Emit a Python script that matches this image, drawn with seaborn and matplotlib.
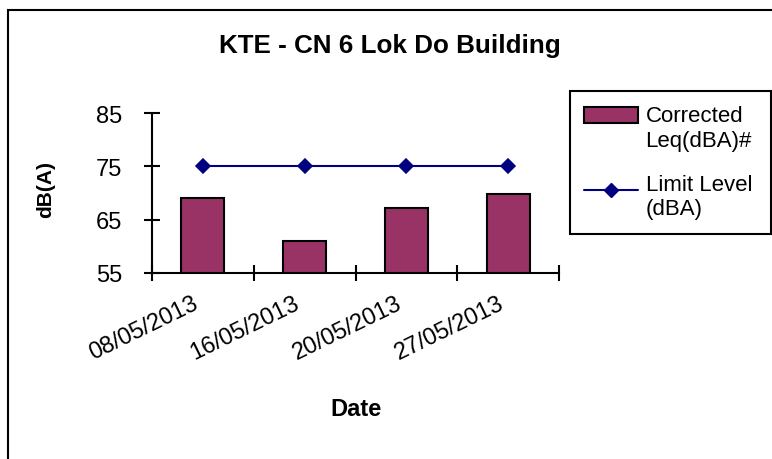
import pandas as pd
import matplotlib.pyplot as plt
from matplotlib.patches import Patch, Rectangle
from matplotlib.lines import Line2D
from matplotlib.legend_handler import HandlerPatch, HandlerLine2D
from matplotlib.transforms import ScaledTranslation
import seaborn as sns

dates = ["08/05/2013", "16/05/2013", "20/05/2013", "27/05/2013"]
leq_values = [69.1, 61.0, 67.2, 69.8]
limit_values = [75, 75, 75, 75]
y_ticks = [55, 65, 75, 85]

bar_color = "#993366"
line_color = "#000080"

df = pd.DataFrame({"Date": dates, "Leq": leq_values, "Limit": limit_values})

sns.set_style("white")
plt.rcParams["font.family"] = ["Liberation Sans", "DejaVu Sans"]
plt.rcParams["text.color"] = "black"
plt.rcParams["axes.labelcolor"] = "black"
plt.rcParams["xtick.color"] = "black"
plt.rcParams["ytick.color"] = "black"


# legend symbols sit next to the first line of each label (Excel style)
class UpPatch(HandlerPatch):
    def create_artists(self, legend, orig_handle, xdescent, ydescent,
                       width, height, fontsize, trans):
        return super().create_artists(legend, orig_handle, xdescent,
                                      ydescent - 0.6 * fontsize, width,
                                      height, fontsize, trans)


class UpLine(HandlerLine2D):
    def create_artists(self, legend, orig_handle, xdescent, ydescent,
                       width, height, fontsize, trans):
        return super().create_artists(legend, orig_handle, xdescent,
                                      ydescent - 0.6 * fontsize, width,
                                      height, fontsize, trans)


fig = plt.figure(figsize=(7.72, 4.6), dpi=100)
ax = fig.add_axes([151.7 / 772, 1 - 273.7 / 460, 407.6 / 772, 159.4 / 460])

# Corrected Leq bars
sns.barplot(
    data=df, x="Date", y="Leq", ax=ax,
    color=bar_color, saturation=1, width=0.42,
    edgecolor="black", linewidth=1.5
)

# Limit level line
sns.pointplot(
    data=df, x="Date", y="Limit", ax=ax,
    color=line_color, markers="D", markersize=7, linewidth=1.5
)

ax.set_ylim(55, 85)
ax.set_xlim(-0.5, len(dates) - 0.5)
ax.set_yticks(y_ticks)
ax.tick_params(axis="y", left=True, labelsize=17, direction="inout",
               length=12, width=1.5, pad=15)

# category boundary ticks, labels at centers
ax.set_xticks([i - 0.5 for i in range(len(dates) + 1)])
ax.set_xticklabels([])
ax.set_xticks(range(len(dates)), minor=True)
ax.set_xticklabels(dates, minor=True)
ax.tick_params(axis="x", which="major", bottom=True, direction="inout",
               length=12, width=1.5)
ax.tick_params(axis="x", which="minor", bottom=True, length=0,
               labelsize=17, pad=14)
offset = ScaledTranslation(-0.11, 0.0, fig.dpi_scale_trans)
for lbl in ax.get_xticklabels(minor=True):
    lbl.set_rotation(26)
    lbl.set_ha("right")
    lbl.set_va("top")
    lbl.set_rotation_mode("anchor")
    lbl.set_transform(lbl.get_transform() + offset)

for side in ["top", "right"]:
    ax.spines[side].set_visible(False)
for side in ["left", "bottom"]:
    ax.spines[side].set_color("black")
    ax.spines[side].set_linewidth(1.5)

ax.set_xlabel("Date", fontsize=17, fontweight="bold")
ax.xaxis.set_label_coords(0.5, -0.78)
ax.set_ylabel("dB(A)", fontsize=15, fontweight="bold")
ax.yaxis.set_label_coords(-0.237, 0.53)

fig.text(0.505, 1 - 46 / 460, "KTE - CN 6 Lok Do Building",
         fontsize=18.7, fontweight="bold", ha="center", va="center")

bar_handle = Patch(facecolor=bar_color, edgecolor="black", linewidth=1.5)
line_handle = Line2D([], [], color=line_color, marker="D", markersize=7,
                     linewidth=1.5)
leg = fig.legend(
    [bar_handle, line_handle], ["Corrected\nLeq(dBA)#", "Limit Level\n(dBA)"],
    handler_map={bar_handle: UpPatch(), line_handle: UpLine()},
    loc="upper left",
    bbox_to_anchor=(570 / 772, 1 - 237 / 460, 201 / 772, 145 / 460),
    bbox_transform=fig.transFigure, mode="expand",
    fontsize=16, frameon=True, fancybox=False, framealpha=1,
    handlelength=2.4, handletextpad=0.35, borderpad=0.65,
    labelspacing=1.05, borderaxespad=0,
)
leg.get_frame().set_edgecolor("black")
leg.get_frame().set_linewidth(1.5)

# outer chart border (cut at right/bottom like the source)
fig.add_artist(Rectangle((8 / 772, -0.1), 1.2, 1.1 - 11 / 460,
                         transform=fig.transFigure, fill=False,
                         edgecolor="black", linewidth=1.5))

plt.savefig("out.png", dpi=100)
